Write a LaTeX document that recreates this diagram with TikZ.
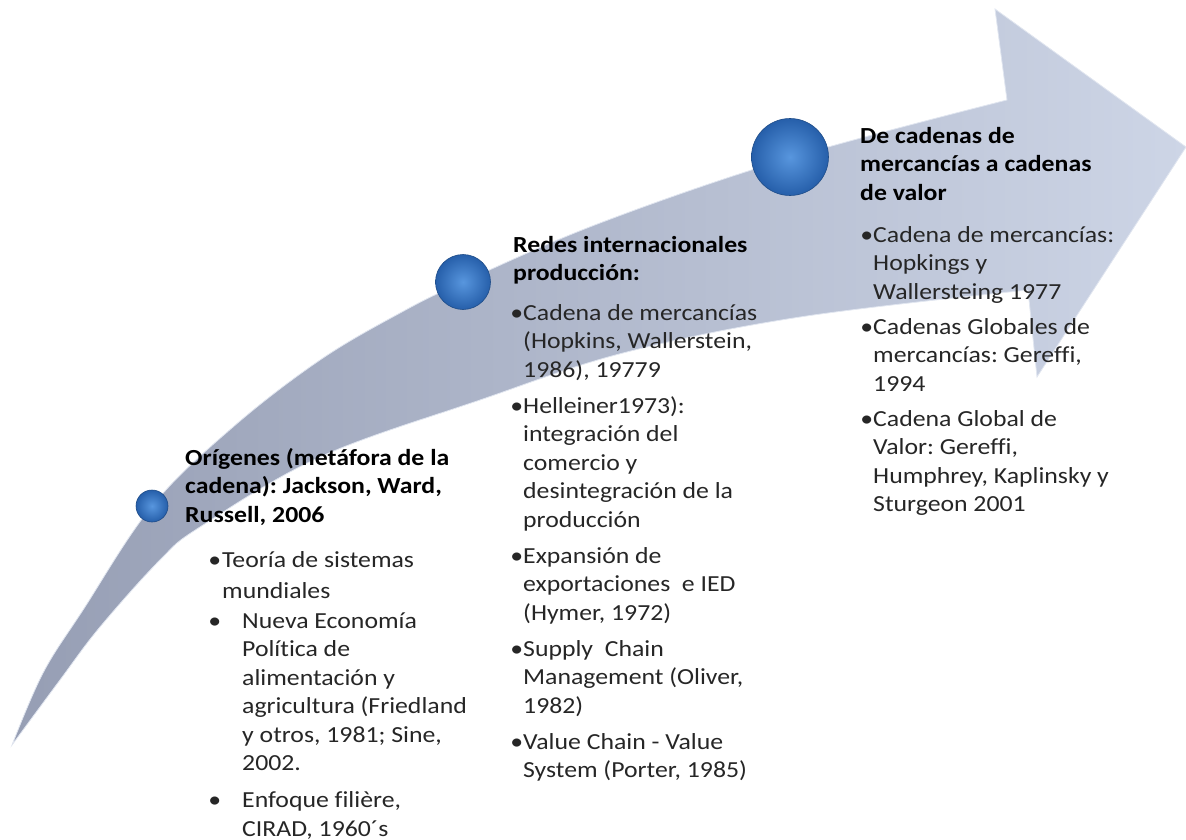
\documentclass[tikz,border=0pt]{standalone}
\usepackage{fontspec}
\setmainfont{Carlito}[FakeStretch=1.12,Ligatures=NoCommon]
\frenchspacing
\definecolor{tailgray}{RGB}{150,158,180}
\definecolor{headgray}{RGB}{205,213,230}
\definecolor{edgegray}{RGB}{225,230,240}
\definecolor{ballinner}{RGB}{88,150,222}
\definecolor{ballouter}{RGB}{38,95,170}
\begin{document}
\begin{tikzpicture}[x=1pt,y=-1pt,
    head/.style={anchor=north west,inner sep=0pt,align=left,font=\bfseries\fontsize{23}{28.5}\selectfont},
    body/.style={anchor=north west,inner sep=0pt,align=left,text=black!85,font=\fontsize{23}{28.5}\selectfont},
    ball/.style={circle,inner sep=0pt,inner color=ballinner,outer color=ballouter,draw=ballouter!80!black,line width=0.6pt}]
    \useasboundingbox (0,0) rectangle (1186,840);

    \path[left color=tailgray,right color=headgray,draw=edgegray,line width=0.8pt]
      plot[smooth,tension=0.6] coordinates {(12,745) (43,673) (83,610) (152,506) (233,427) (320,360) (400,313) (463,282) (600,223) (790,158) (1007,100)}
      -- (995,9) -- (1186,147) -- (1037,377) -- (1028,290)
      -- plot[smooth,tension=0.6] coordinates {(1028,290) (800,317) (623,353) (480,400) (320,457) (200,527) (160,560) (100,627) (60,680) (12,745)}
      -- cycle;

    \node[ball,minimum size=32pt] (origball) at (152,506) {};
    \node[ball,minimum size=55pt] (redesball) at (463,282) {};
    \node[ball,minimum size=77pt] (valorball) at (790,157) {};

    \node[head] (orig) at (185,445) {\strut Orígenes (metáfora de la\\cadena): Jackson, Ward,\\Russell, 2006};
    \node[body,font=\fontsize{23}{31}\selectfont] (orig1) at (222,545.3) {\strut\llap{•\hspace{1pt}}Teoría de sistemas\\mundiales};
    \node[body] (orig2) at (242,608) {\strut\llap{•\hspace{21pt}}Nueva Economía\\Política de\\alimentación y\\agricultura (Friedland\\y otros, 1981; Sine,\\2002.\\[8.5pt]
      \llap{•\hspace{21pt}}Enfoque filière,\\CIRAD, 1960´s};

    \node[head] (redes) at (513,232) {\strut Redes internacionales\\producción:};
    \node[body] (redes1) at (523,300) {\strut\llap{•}Cadena de mercancías\\(Hopkins, Wallerstein,\\1986), 19779\\[7.5pt]
      \llap{•}Helleiner1973):\\integración del\\comercio y\\desintegración de la\\producción\\[7.5pt]
      \llap{•}Expansión de\\exportaciones\ \ e IED\\(Hymer, 1972)\\[7.5pt]
      \llap{•}Supply\ \ Chain\\Management (Oliver,\\1982)\\[7.5pt]
      \llap{•}Value Chain - Value\\System (Porter, 1985)};

    \node[head] (valor) at (860,123) {\strut De cadenas de\\mercancías a cadenas\\de valor};
    \node[body] (valor1) at (873,222) {\strut\llap{•}Cadena de mercancías:\\Hopkings y\\Wallersteing 1977\\[6.5pt]
      \llap{•}Cadenas Globales de\\mercancías: Gereffi,\\1994\\[6.5pt]
      \llap{•}Cadena Global de\\Valor: Gereffi,\\Humphrey, Kaplinsky y\\Sturgeon 2001};
\end{tikzpicture}
\end{document}
